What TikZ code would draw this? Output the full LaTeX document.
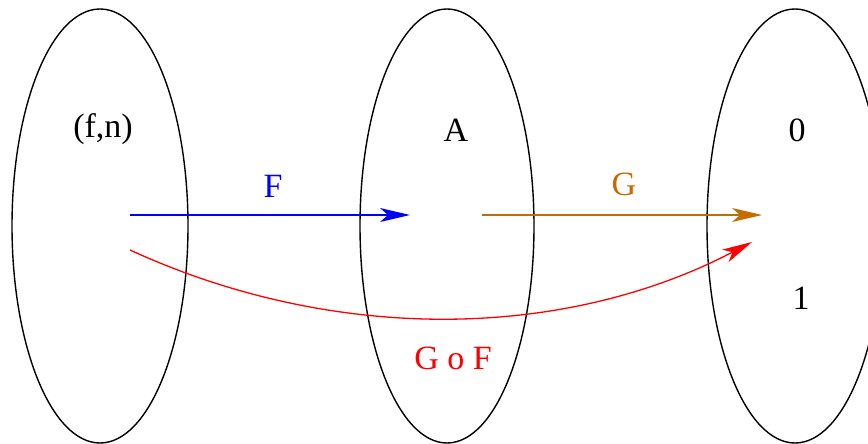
\documentclass[tikz,border=0pt]{standalone}
\usepackage{fontspec}
\setmainfont{Liberation Serif}
\usetikzlibrary{arrows.meta}
\definecolor{gorange}{RGB}{196,108,0}
\begin{document}
\begin{tikzpicture}[x=1pt,y=-1pt,
  setel/.style={draw=black,line width=1.4pt},
  lbl/.style={inner sep=0pt,font=\fontsize{34}{34}\selectfont},
  arr/.style={line width=1.3pt,-{Stealth[length=30pt,width=14pt,inset=8pt]}}]
\useasboundingbox (0,0) rectangle (868,444);
\clip (0,0) rectangle (868,444);
\draw[setel] (100,226) ellipse [x radius=88, y radius=217];
\draw[setel] (447,226) ellipse [x radius=87, y radius=217];
\draw[setel] (795,226) ellipse [x radius=88, y radius=217];
\node[lbl] (fn) at (103,129) {(f,n)};
\node[lbl] (A) at (456,130) {A};
\node[lbl] (zero) at (797,130) {0};
\node[lbl] (one) at (801,298) {1};
\node[lbl,text=blue] (F) at (273,186) {F};
\node[lbl,text=gorange] (G) at (624,184) {G};
\node[lbl,text=red] (GoF) at (453,358) {G o F};
\coordinate (b0) at (130,215);
\coordinate (b1) at (410,215);
\coordinate (o0) at (482,215);
\coordinate (o1) at (762,215);
\coordinate (r0) at (130,250);
\coordinate (r1) at (752,242);
\draw[arr,blue] (b0) -- (b1);
\draw[arr,gorange] (o0) -- (o1);
\draw[arr,red] (r0) .. controls (330,342) and (560,342) .. (r1);
\end{tikzpicture}
\end{document}
